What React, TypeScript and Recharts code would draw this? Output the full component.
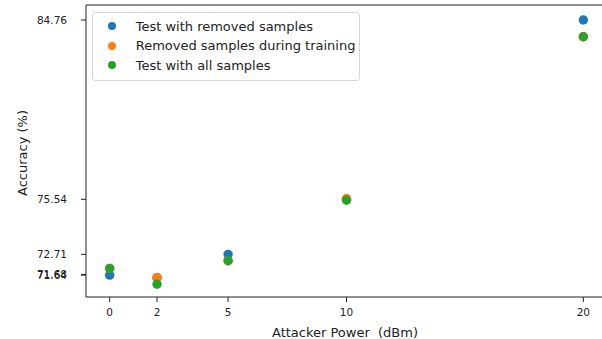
import { Legend, ReferenceLine, Scatter, ScatterChart, XAxis, YAxis } from "recharts";

const powers = [0, 2, 5, 10, 20];
const testRemoved = [71.64, 71.51, 72.71, 75.54, 84.76];
const trainRemoved = [71.99, 71.51, 72.38, 75.58, 83.9];
const testAll = [71.99, 71.17, 72.38, 75.49, 83.9];

const xTicks = [0, 2, 5, 10, 20];
const yTicks = [71.64, 71.68, 72.71, 75.54, 84.76];

const Y_MIN = 70.516;
const Y_MAX = 85.531;

const FONT = "'DejaVu Sans', sans-serif";
const INK = "#222";

const series = [
  { name: "Test with removed samples", color: "#1f77b4", values: testRemoved },
  { name: "Removed samples during training", color: "#ff7f0e", values: trainRemoved },
  { name: "Test with all samples", color: "#2ca02c", values: testAll },
];

const toRows = (values: number[]) => powers.map((x, i) => ({ x, y: values[i] }));

function Dot(props: any) {
  const { cx, cy, fill } = props;
  if (cx == null || cy == null) return null;
  return <circle cx={cx} cy={cy} r={4.7} fill={fill} />;
}

function LegendBox() {
  return (
    <div
      style={{
        width: 266,
        height: 63,
        border: "1px solid #d6d6d6",
        borderRadius: 3,
        background: "rgba(255,255,255,0.8)",
        paddingTop: 3.5,
        boxSizing: "content-box",
        fontFamily: FONT,
        fontSize: 13,
        color: INK,
      }}
    >
      {series.map((s) => (
        <div key={s.name} style={{ height: 19.5, display: "flex", alignItems: "center" }}>
          <span
            style={{
              width: 8,
              height: 8,
              borderRadius: 4,
              background: s.color,
              marginLeft: 14.7,
              marginRight: 20,
            }}
          />
          <span>{s.name}</span>
        </div>
      ))}
    </div>
  );
}

export default function App() {
  return (
    <div
      style={{
        position: "absolute",
        left: 0,
        top: 0,
        width: 602,
        height: 339,
        overflow: "hidden",
        background: "#fff",
      }}
    >
      <ScatterChart width={620} height={339} margin={{ top: 5, right: 13, bottom: 0, left: 0 }}>
        <XAxis
          type="number"
          dataKey="x"
          domain={[-1, 21]}
          ticks={xTicks}
          interval={0}
          height={42}
          tickSize={5}
          tickMargin={7}
          stroke={INK}
          tick={{ fontSize: 10.5, fontFamily: FONT, fill: INK }}
        />
        <YAxis
          type="number"
          dataKey="y"
          domain={[Y_MIN, Y_MAX]}
          allowDataOverflow
          ticks={yTicks}
          interval={0}
          width={86}
          tickSize={5}
          tickMargin={14}
          stroke={INK}
          tickFormatter={(v: number) => v.toFixed(2)}
          tick={{ fontSize: 10.5, fontFamily: FONT, fill: INK }}
        />
        <ReferenceLine y={Y_MAX} stroke={INK} ifOverflow="extendDomain" />
        <ReferenceLine x={21} stroke={INK} ifOverflow="extendDomain" />
        {series.map((s) => (
          <Scatter
            key={s.name}
            name={s.name}
            data={toRows(s.values)}
            fill={s.color}
            shape={Dot}
            isAnimationActive={false}
          />
        ))}
        <Legend
          layout="vertical"
          align="center"
          verticalAlign="middle"
          content={() => <LegendBox />}
          wrapperStyle={{ position: "absolute", left: 92, top: 12, width: 268 }}
        />
      </ScatterChart>
      <div
        style={{
          position: "absolute",
          left: 22,
          top: 153,
          transform: "translate(-50%, -50%) rotate(-90deg)",
          whiteSpace: "nowrap",
          fontFamily: FONT,
          fontSize: 13,
          color: INK,
        }}
      >
        Accuracy (%)
      </div>
      <div
        style={{
          position: "absolute",
          left: 345,
          top: 332,
          transform: "translate(-50%, -50%)",
          whiteSpace: "pre",
          fontFamily: FONT,
          fontSize: 13,
          color: INK,
        }}
      >
        {"Attacker Power  (dBm)"}
      </div>
    </div>
  );
}
